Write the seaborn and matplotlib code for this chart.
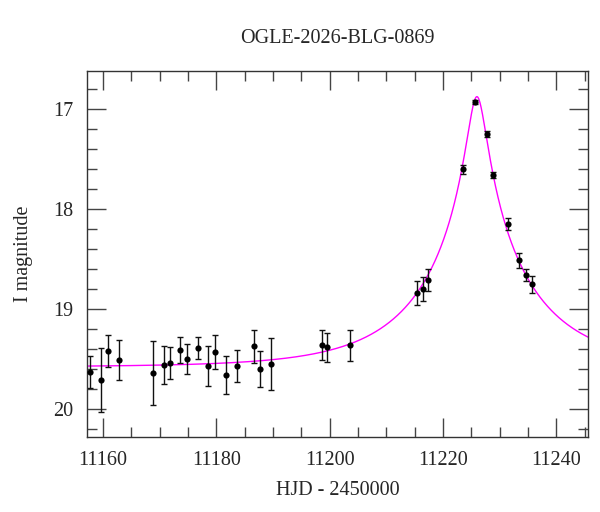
import numpy as np
import pandas as pd
import matplotlib
matplotlib.use('Agg')
import matplotlib.pyplot as plt
import seaborn as sns
from matplotlib.ticker import MultipleLocator

# photometry (HJD - 2450000, I mag, error)
hjd = [11157.8, 11159.7, 11160.9, 11162.8, 11168.9, 11170.7, 11171.8, 11173.6,
       11174.9, 11176.7, 11178.6, 11179.8, 11181.7, 11183.7, 11186.6, 11187.7,
       11189.6, 11198.6, 11199.6, 11203.6, 11215.4, 11216.4, 11217.4, 11223.5,
       11225.7, 11227.7, 11228.8, 11231.5, 11233.4, 11234.6, 11235.7]
imag = [19.63, 19.71, 19.42, 19.51, 19.64, 19.56, 19.54, 19.41,
        19.50, 19.39, 19.57, 19.43, 19.66, 19.57, 19.37, 19.60,
        19.55, 19.36, 19.38, 19.36, 18.84, 18.80, 18.71, 17.60,
        16.93, 17.25, 17.66, 18.15, 18.51, 18.66, 18.75]
ierr = [0.16, 0.32, 0.16, 0.20, 0.32, 0.19, 0.16, 0.13,
        0.15, 0.11, 0.20, 0.17, 0.19, 0.16, 0.165, 0.18,
        0.26, 0.15, 0.145, 0.155, 0.12, 0.12, 0.11, 0.045,
        0.02, 0.03, 0.03, 0.06, 0.075, 0.06, 0.085]

# point-lens model parameters
t0 = 11226.0
u0 = 0.083
tE = 19.0
I_base = 19.58

df = pd.DataFrame({'hjd': hjd, 'imag': imag, 'err': ierr})

t = np.linspace(11150, 11250, 2000)
u = np.sqrt(u0**2 + ((t - t0) / tE)**2)
A = (u**2 + 2) / (u * np.sqrt(u**2 + 4))
model = pd.DataFrame({'t': t, 'mag': I_base - 2.5 * np.log10(A)})

sns.set_style('ticks')
plt.rcParams['font.family'] = ['Liberation Serif', 'DejaVu Serif']

fig = plt.figure(figsize=(6, 5.12), dpi=100)
ax = fig.add_axes([0.145, 0.1465, 0.835, 0.7145])

sns.lineplot(data=model, x='t', y='mag', color='#ff00ff', lw=1, ax=ax)
ax.errorbar(df.hjd, df.imag, yerr=df.err, fmt='none', ecolor='#111111',
            elinewidth=1, capsize=2.5, capthick=1)
sns.scatterplot(data=df, x='hjd', y='imag', color='black', s=20,
                edgecolor='black', linewidth=0, ax=ax, zorder=3)

ax.set_xlim(11157.2, 11245.6)
ax.set_ylim(20.28, 16.62)
ax.xaxis.set_major_locator(MultipleLocator(20))
ax.xaxis.set_minor_locator(MultipleLocator(5))
ax.yaxis.set_major_locator(MultipleLocator(1))
ax.yaxis.set_minor_locator(MultipleLocator(0.2))
ax.tick_params(which='both', direction='in', top=True, right=True,
               labelsize=14.5, color='#444444', width=1)
ax.tick_params(which='major', length=13.5, pad=10)
ax.tick_params(which='minor', length=7)
for s in ax.spines.values():
    s.set_linewidth(1)
    s.set_color('#333333')

ax.set_xlabel('HJD - 2450000', fontsize=14.5, labelpad=8)
ax.set_ylabel('I magnitude', fontsize=14.5, labelpad=14)
ax.set_title('OGLE-2026-BLG-0869', fontsize=14.5, pad=20)

fig.savefig('out.png', dpi=100)
